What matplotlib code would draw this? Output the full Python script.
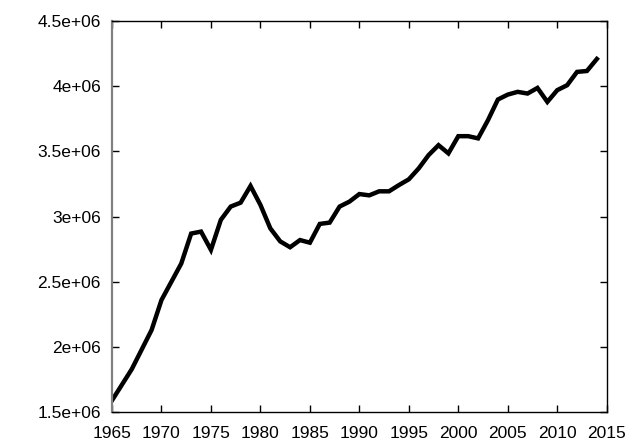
import matplotlib
matplotlib.use("Agg")
import matplotlib.pyplot as plt

years = list(range(1965, 2015))
values = [1.59e6, 1.71e6, 1.83e6, 1.98e6, 2.13e6, 2.36e6, 2.50e6, 2.64e6, 2.87e6, 2.885e6,
          2.745e6, 2.975e6, 3.077e6, 3.107e6, 3.235e6, 3.09e6, 2.91e6, 2.81e6, 2.765e6, 2.82e6,
          2.80e6, 2.944e6, 2.954e6, 3.077e6, 3.115e6, 3.173e6, 3.163e6, 3.194e6, 3.194e6, 3.242e6,
          3.286e6, 3.37e6, 3.472e6, 3.548e6, 3.485e6, 3.617e6, 3.617e6, 3.60e6, 3.74e6, 3.898e6,
          3.936e6, 3.957e6, 3.944e6, 3.987e6, 3.88e6, 3.97e6, 4.008e6, 4.11e6, 4.117e6, 4.209e6]

xticks = [1965, 1970, 1975, 1980, 1985, 1990, 1995, 2000, 2005, 2010, 2015]
yticks = [1.5e6, 2e6, 2.5e6, 3e6, 3.5e6, 4e6, 4.5e6]
ytick_labels = ["1.5e+06", "2e+06", "2.5e+06", "3e+06", "3.5e+06", "4e+06", "4.5e+06"]

plt.rcParams['font.family'] = ['Liberation Sans', 'DejaVu Sans']

fig = plt.figure(figsize=(6.4, 4.48), dpi=100)
ax = fig.add_axes([0.175, 0.080, 0.773, 0.873])

ax.plot(years, values, color='black', linewidth=3.2, solid_joinstyle='miter')

ax.set_xlim(1965, 2015)
ax.set_ylim(1.5e6, 4.5e6)
ax.set_xticks(xticks)
ax.set_xticklabels([str(t) for t in xticks])
ax.set_yticks(yticks)
ax.set_yticklabels(ytick_labels)

ax.tick_params(direction='in', length=5, width=1, top=True, right=True,
               labelsize=12.5, color='black')
ax.tick_params(axis='x', pad=10)
ax.tick_params(axis='y', pad=8)

ax.spines['left'].set_color('#808080')
ax.spines['left'].set_linewidth(1.6)
for side in ['bottom', 'top', 'right']:
    ax.spines[side].set_color('black')
    ax.spines[side].set_linewidth(1.0)

fig.savefig("out.png", dpi=100)
